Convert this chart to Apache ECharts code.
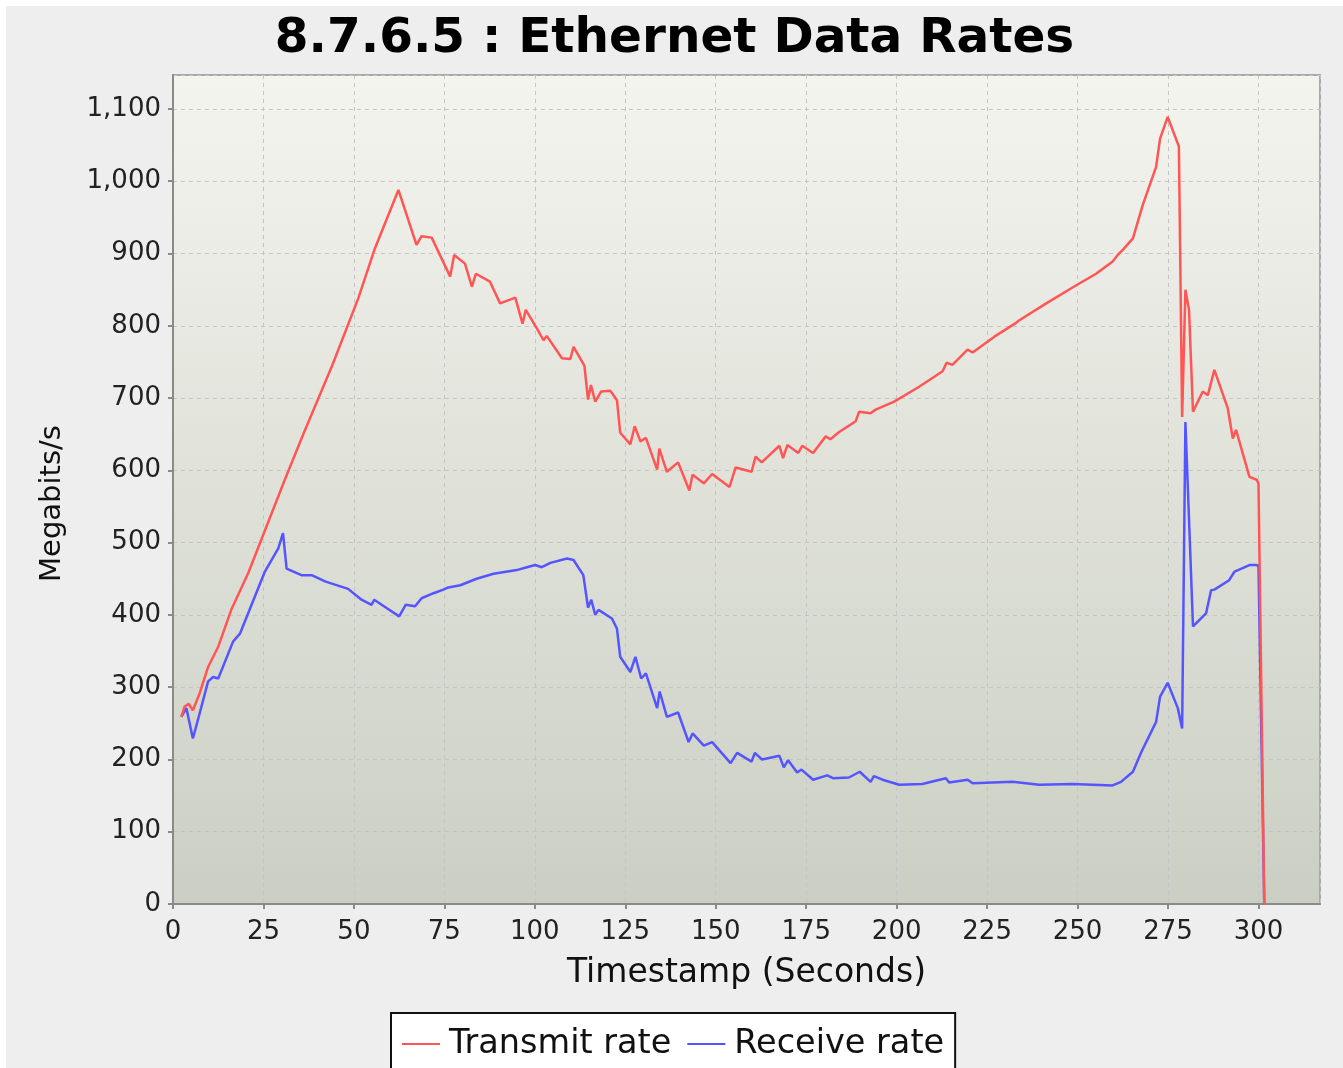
<!DOCTYPE html>
<html>
<head>
<meta charset="utf-8">
<script src="https://cdn.jsdelivr.net/npm/echarts@6/dist/echarts.min.js"></script>
<style>
html,body{margin:0;padding:0;background:#ffffff;}
#chart{position:absolute;left:6px;top:6px;width:1337px;height:1062px;}
</style>
</head>
<body>
<div id="chart"></div>
<script>
const titleText = '8.7.6.5 : Ethernet Data Rates';
const xAxisName = 'Timestamp (Seconds)';
const yAxisName = 'Megabits/s';
const seriesNames = ['Transmit rate', 'Receive rate'];

const txTime = [2.3,3.2,4.3,5.5,7.4,9.7,12.5,16.1,20.8,24.4,30.9,36,44,51.2,55.8,62.3,67.3,68.7,71.5,76.6,77.7,80.7,82.6,83.7,87.6,90.4,94.6,96.6,97.5,100.6,102.4,103.3,107.5,109.8,110.7,113.7,114.7,115.5,116.7,118.3,120.9,122.7,123.6,126.4,127.6,129.2,130.7,133.8,134.4,136.5,139.6,142.7,143.6,146.7,149,153.8,155.5,159.9,161,162.7,167.6,168.6,169.8,172.8,173.9,176.9,180.4,181.7,184.1,188.7,189.6,192.8,194.2,199.3,206,212.7,213.8,215.4,219.6,221,227,233,233.7,241,248.6,255.1,259.7,261.1,262.5,265.3,268,271.7,272.8,274.9,278,278.9,279.8,280.8,281.9,284.6,286,287.8,291.5,292.9,293.8,297.5,299.5,300,301.6];
const txRate = [259,273,277,268,292,328,356,407,458,504,587,650,745,838,907,988,912,924,922,868,898,886,854,872,861,831,839,803,822,796,780,786,755,754,771,745,698,718,695,709,710,697,652,636,661,640,645,601,630,598,611,572,594,582,595,577,604,598,619,611,634,617,635,624,634,624,647,643,653,668,681,679,684,695,715,737,749,746,767,763,785,804,807,830,853,872,889,898,905,921,967,1020,1059,1089,1048,674,850,822,681,709,704,739,686,644,656,591,587,582,0];

const rxTime = [2.3,3.7,5.5,6.9,9.7,11.1,12.5,16.6,18.5,25.4,29.1,30.4,31.4,35.5,38.3,42.2,48.4,52.1,54.9,55.6,58.6,62.5,64.3,66.9,68.7,72,74.7,76.1,79.4,83.9,88.6,95,97.8,100.1,101.9,104.3,108.9,110.7,113.4,114.7,115.6,116.7,117.6,121.3,122.7,123.6,126.4,127.8,129.4,130.7,133.8,134.5,136.5,139.6,142.5,143.6,146.7,149,154.1,155.9,159.9,160.8,162.8,167.6,168.8,170,172.5,173.7,176.9,180.8,182.4,186.8,189.8,192.8,193.7,196.1,200.7,207.1,213.6,214.5,219.6,221,232,239.4,248.6,259.7,262,265.3,267.6,271.7,272.8,274.9,277.7,278.9,279.8,281.9,285.5,286.9,287.8,291.9,293.4,297.5,299.3,300,301.6];
const rxRate = [259,271,229,255,308,314,312,363,374,460,492,513,464,455,455,446,436,421,414,421,411,398,414,412,423,430,435,438,441,450,457,462,466,469,466,472,478,476,455,410,421,400,407,395,381,342,321,342,312,319,271,294,259,265,224,236,219,224,195,209,197,209,200,205,189,199,182,186,172,178,174,175,183,169,177,172,165,166,174,168,172,167,169,165,166,164,169,183,210,252,287,306,271,243,667,384,402,434,435,448,460,469,469,468,0];

const xTicks = {min: 0, max: 317, step: 25};
const yTicks = {min: 0, max: 1147, step: 100};

function pairs(ts, vs) { return ts.map((t, i) => [t, vs[i]]); }

const chart = echarts.init(document.getElementById('chart'), null, {renderer: 'canvas'});
const font = 'DejaVu Sans';
chart.setOption({
  backgroundColor: '#eeeeee',
  animation: false,
  title: {
    text: titleText,
    left: 'center',
    top: 4,
    textStyle: {fontFamily: font, fontSize: 48.5, fontWeight: 'bold', color: '#000000'}
  },
  legend: {
    left: 385,
    top: 1007,
    orient: 'horizontal',
    backgroundColor: '#ffffff',
    borderColor: '#111111',
    borderWidth: 2,
    borderRadius: 0,
    padding: [14, 11, 20, 11],
    itemGap: 16,
    itemWidth: 38,
    itemHeight: 2,
    icon: 'rect',
    textStyle: {fontFamily: font, fontSize: 33.5, color: '#111111', padding: [0, 0, 0, 4]},
    data: seriesNames
  },
  grid: {
    left: 167, top: 69, right: 23, bottom: 164,
    show: true,
    borderColor: '#a8a8a8',
    borderWidth: 2,
    backgroundColor: new echarts.graphic.LinearGradient(0, 0, 0, 1, [
      {offset: 0, color: '#f4f4ef'},
      {offset: 1, color: '#cbcfc3'}
    ])
  },
  xAxis: {
    type: 'value',
    min: xTicks.min, max: xTicks.max, interval: xTicks.step,
    name: xAxisName,
    nameLocation: 'middle',
    nameGap: 53,
    nameTextStyle: {fontFamily: font, fontSize: 33, color: '#111111'},
    axisLine: {show: true, onZero: false, lineStyle: {color: '#8a8a8a', width: 2}},
    axisTick: {show: true, length: 5, lineStyle: {color: '#8a8a8a', width: 2}},
    axisLabel: {showMaxLabel: false, margin: 15, fontFamily: font, fontSize: 26, color: '#222222'},
    splitLine: {show: true, lineStyle: {color: '#c4c4c4', width: 1, type: [4, 4]}}
  },
  yAxis: {
    type: 'value',
    min: yTicks.min, max: yTicks.max, interval: yTicks.step,
    name: yAxisName,
    nameLocation: 'middle',
    nameGap: 106,
    nameTextStyle: {fontFamily: font, fontSize: 29, color: '#111111', padding: [0, 28, 0, 0]},
    axisLine: {show: true, onZero: false, lineStyle: {color: '#8a8a8a', width: 2}},
    axisTick: {show: true, length: 5, lineStyle: {color: '#8a8a8a', width: 2}},
    axisLabel: {
      showMaxLabel: false, margin: 12, fontFamily: font, fontSize: 26, color: '#222222',
      formatter: v => v.toLocaleString('en-US')
    },
    splitLine: {show: true, lineStyle: {color: '#c4c4c4', width: 1, type: [4, 4]}}
  },
  series: [
    {
      name: seriesNames[0], type: 'line', data: pairs(txTime, txRate),
      symbol: 'none', z: 3,
      lineStyle: {color: '#ff5555', width: 2.5},
      itemStyle: {color: '#ff5555'}
    },
    {
      name: seriesNames[1], type: 'line', data: pairs(rxTime, rxRate),
      symbol: 'none', z: 2,
      lineStyle: {color: '#5555ff', width: 2.5},
      itemStyle: {color: '#5555ff'}
    }
  ]
});
</script>
</body>
</html>
